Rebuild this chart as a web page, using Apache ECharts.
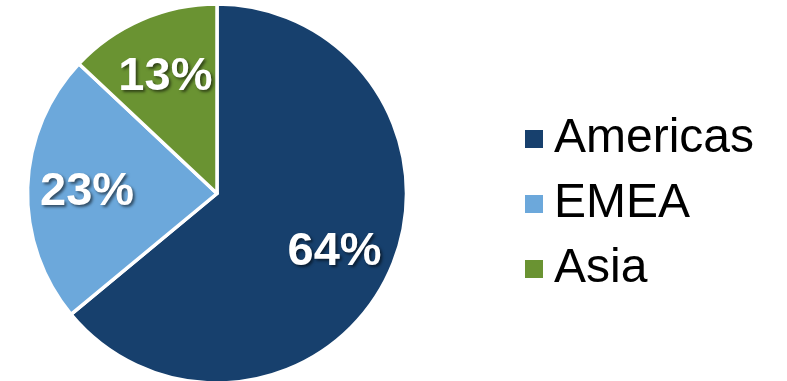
<!DOCTYPE html>
<html>
<head>
<meta charset="utf-8">
<script src="https://cdn.jsdelivr.net/npm/echarts@6/dist/echarts.min.js"></script>
<style>
  html, body { margin: 0; padding: 0; background: #ffffff; }
  #chart { width: 787px; height: 381px; }
</style>
</head>
<body>
<div id="chart"></div>
<script>
// Regional revenue split
const regions = ['Americas', 'EMEA', 'Asia'];
const shares = [64, 23, 13];
const regionColors = ['#17406D', '#6CA8DB', '#6A9332'];

const pieData = regions.map((name, i) => ({
  name: name,
  value: shares[i],
  itemStyle: { color: regionColors[i] }
}));

const chart = echarts.init(document.getElementById('chart'), null, { renderer: 'canvas' });

const center = [217, 193.5];
const outerR = 189.5;

chart.setOption({
  animation: false,
  backgroundColor: '#ffffff',
  legend: {
    orient: 'vertical',
    left: 518,
    top: 110,
    icon: 'rect',
    itemWidth: 20,
    itemHeight: 20,
    itemGap: 17,
    data: regions,
    textStyle: {
      fontFamily: 'Liberation Sans, Arial, sans-serif',
      fontSize: 48,
      color: '#000000',
      lineHeight: 48,
      padding: [0, 0, 0, 5]
    }
  },
  series: [
    {
      // filled slices
      type: 'pie',
      center: center,
      radius: [0, outerR],
      startAngle: 90,
      clockwise: true,
      silent: true,
      label: { show: false },
      labelLine: { show: false },
      itemStyle: { borderColor: '#ffffff', borderWidth: 3.5 },
      data: pieData
    },
    {
      // percentage labels, placed further out than the slice midline
      type: 'pie',
      center: center,
      radius: [outerR * 0.34, outerR],
      startAngle: 90,
      clockwise: true,
      silent: true,
      legendHoverLink: false,
      itemStyle: { color: 'rgba(0,0,0,0)', borderWidth: 0 },
      labelLine: { show: false },
      label: {
        show: true,
        position: 'inside',
        formatter: p => p.value + '%',
        fontFamily: 'Liberation Sans, Arial, sans-serif',
        fontWeight: 'bold',
        fontSize: 47,
        color: '#ffffff',
        offset: [0, 3],
        textShadowColor: 'rgba(0,0,0,0.55)',
        textShadowBlur: 3,
        textShadowOffsetX: 2,
        textShadowOffsetY: 2
      },
      data: regions.map((name, i) => ({ name: name, value: shares[i] }))
    }
  ]
});
</script>
</body>
</html>
